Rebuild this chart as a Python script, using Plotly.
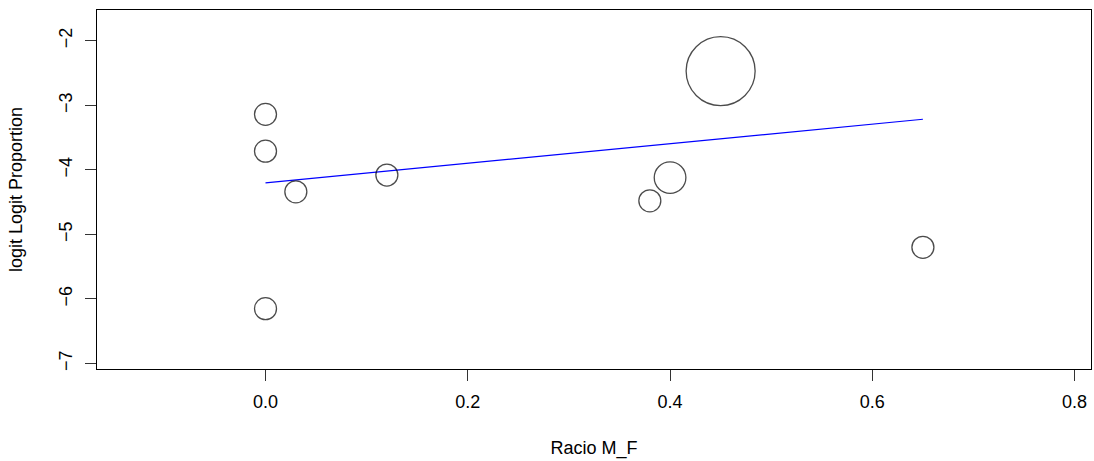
import plotly.graph_objects as go

# Study-level data: moderator, logit proportion, and relative weight
racio_mf = [0.00, 0.00, 0.00, 0.03, 0.12, 0.38, 0.40, 0.45, 0.65]
logit_prop = [-3.14, -3.71, -6.15, -4.34, -4.08, -4.48, -4.12, -2.47, -5.20]
weights = [1.0, 1.0, 1.0, 1.0, 1.0, 1.0, 2.07, 9.84, 1.0]

# Fitted meta-regression line (intercept, slope) over the observed moderator range
intercept = -4.20
slope = 1.514
x_fit = [min(racio_mf), max(racio_mf)]
y_fit = [intercept + slope * x for x in x_fit]

x_ticks = [0.0, 0.2, 0.4, 0.6, 0.8]
y_ticks = [-2, -3, -4, -5, -6, -7]

font_family = "Liberation Sans, Arial, Helvetica, sans-serif"

# smallest bubble is drawn about 22 px across; area scales with weight
base_diam = 22
fig = go.Figure()
fig.add_trace(go.Scatter(
    x=x_fit, y=y_fit, mode="lines",
    line=dict(color="#0000ff", width=1.2),
    hoverinfo="skip", showlegend=False,
))
fig.add_trace(go.Scatter(
    x=racio_mf, y=logit_prop, mode="markers",
    marker=dict(
        size=weights, sizemode="area", sizeref=2 / base_diam ** 2,
        color="rgba(0,0,0,0)", line=dict(color="black", width=1.3),
    ),
    showlegend=False,
))

fig.update_layout(
    width=1094, height=461,
    margin=dict(l=97, r=3, t=10, b=92),
    paper_bgcolor="white", plot_bgcolor="white",
    font=dict(family=font_family, size=18, color="black"),
    xaxis=dict(
        range=[-0.1666, 0.8162], tickvals=x_ticks,
        ticktext=[f"{v:.1f}" for v in x_ticks],
        ticks="outside", ticklen=11, tickcolor="#333", tickwidth=1,
        showline=True, mirror=True, linecolor="black", linewidth=1,
        showgrid=False, zeroline=False,
        title=dict(text="Racio M_F", font=dict(size=18), standoff=30),
        ticklabelstandoff=5,
    ),
    yaxis=dict(
        range=[-7.085, -1.523], tickvals=y_ticks,
        ticktext=["\u2212" + str(abs(v)) for v in y_ticks],
        tickangle=-90,
        ticks="outside", ticklen=11, tickcolor="#333", tickwidth=1,
        showline=True, mirror=True, linecolor="black", linewidth=1,
        showgrid=False, zeroline=False,
        title=dict(text="logit Logit Proportion", font=dict(size=18), standoff=28),
        ticklabelstandoff=6,
    ),
)

fig.write_html("out.html")
